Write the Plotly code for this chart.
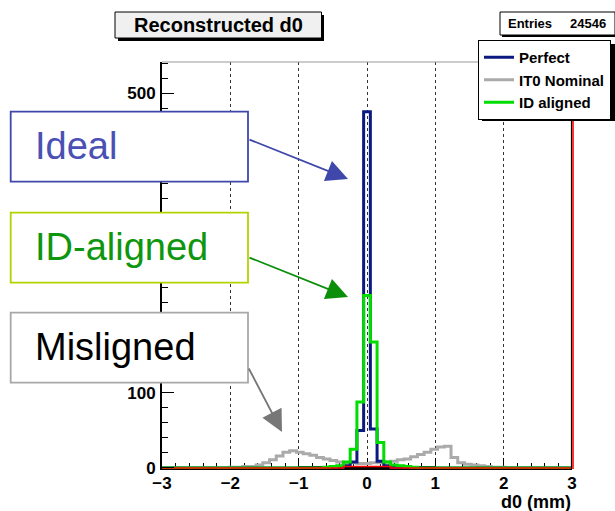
import numpy as np
import plotly.graph_objects as go

# ---- histogram binning: 61 bins over [-3, 3] mm ----
N_BINS = 61
X_MIN, X_MAX = -3.0, 3.0

# ---- bin contents (bins -30 .. +30 around d0 = 0) ----
perfect = [
    0, 0, 0, 0, 0, 0, 0, 0, 0, 0,
    0, 0, 0, 0, 0, 0, 0, 0, 0, 0,
    0, 0, 0, 0, 0, 0, 1, 3, 8, 50,
    475, 52, 9, 3, 1, 0, 0, 0, 0, 0,
    0, 0, 0, 0, 0, 0, 0, 0, 0, 0,
    0, 0, 0, 0, 0, 0, 0, 0, 0, 0,
    0,
]
it0_nominal = [
    0, 0, 0, 0, 0, 0, 0, 0, 0, 0,
    1, 1, 2, 2, 4, 7, 11, 16, 21, 23,
    21, 19, 17, 14, 12, 10, 8, 7, 7, 6,
    6, 7, 7, 8, 9, 11, 12, 15, 18, 21,
    25, 28, 29, 14, 7, 5, 4, 3, 2, 1,
    1, 0, 0, 0, 0, 0, 0, 0, 0, 0,
    0,
]
id_aligned = [
    0, 0, 0, 0, 0, 0, 0, 0, 0, 0,
    0, 0, 0, 0, 0, 0, 0, 0, 0, 0,
    0, 0, 0, 0, 1, 2, 3, 8, 25, 88,
    230, 168, 34, 8, 4, 3, 2, 1, 0, 0,
    0, 0, 0, 0, 0, 0, 0, 0, 0, 0,
    0, 0, 0, 0, 0, 0, 0, 0, 0, 0,
    0,
]
red_hist = [
    0, 0, 0, 0, 0, 0, 0, 0, 0, 0,
    0, 0, 0, 0, 0, 0, 0, 0, 0, 0,
    0, 0, 0, 0, 0, 0, 0, 2, 2, 2,
    2, 2, 2, 2, 0, 0, 0, 0, 0, 0,
    0, 0, 0, 0, 0, 0, 0, 0, 0, 0,
    0, 0, 0, 0, 0, 0, 0, 0, 0, 0,
    0,
]
# empty histogram booked on [-1, 1]
BLACK_MIN, BLACK_MAX = -1.0, 1.0
black_hist = [0] * 20

x_ticks = [-3, -2, -1, 0, 1, 2, 3]
y_ticks = [0, 100, 200, 300, 400, 500]
# labels for 200-400 sit underneath the call-out boxes
y_tick_text = ["0", "100", "", "", "", "500"]
entries = 24546

# ---- canvas geometry (pixels) ----
W, H = 615, 511
ML, MR, MT, MB = 162, 43, 62, 42
FONT = "Liberation Sans"


def px(x):
    return (x - ML) / (W - ML - MR)


def py(y):
    return (H - MB - y) / (H - MT - MB)


def step(lo, hi, vals):
    e = np.linspace(lo, hi, len(vals) + 1)
    return e, list(vals) + [vals[-1]]


fig = go.Figure()


def add_hist(lo, hi, vals, name, color, width, show=True, rank=1):
    xs, ys = step(lo, hi, vals)
    fig.add_trace(go.Scatter(
        x=xs, y=ys, mode="lines", line=dict(color=color, width=width, shape="hv"),
        name=name, showlegend=show, legendrank=rank, hoverinfo="skip"))


add_hist(BLACK_MIN, BLACK_MAX, black_hist, "empty", "black", 4, show=False)
add_hist(X_MIN, X_MAX, it0_nominal, "IT0 Nominal", "#aaaaaa", 3, rank=2)
add_hist(X_MIN, X_MAX, perfect, "Perfect", "#0a1a80", 3, rank=1)
add_hist(X_MIN, X_MAX, id_aligned, "ID aligned", "#00dd00", 3, rank=3)
add_hist(X_MIN, X_MAX, red_hist, "red", "#ff0000", 1.5, show=False)

bold = dict(family=FONT, weight="bold", color="black")

fig.update_layout(
    width=W, height=H,
    margin=dict(l=ML, r=MR, t=MT, b=MB, autoexpand=False),
    plot_bgcolor="white", paper_bgcolor="white",
    font=dict(family=FONT, color="black"),
    xaxis=dict(
        range=[X_MIN, X_MAX], tickvals=x_ticks, ticks="inside", ticklen=11,
        tickcolor="black", tickwidth=1, showline=True, linecolor="black",
        linewidth=1, showgrid=True, gridcolor="#333333", griddash="dot",
        gridwidth=1, zeroline=False, layer="below traces",
        ticklabelstandoff=-1,
        tickfont=dict(size=17, **bold),
        minor=dict(dtick=0.2, tick0=-3, ticks="inside", ticklen=6,
                   tickcolor="black", showgrid=False),
    ),
    yaxis=dict(
        range=[-1.5, 541.5], tickvals=y_ticks, ticktext=y_tick_text,
        ticks="inside", ticklen=12,
        tickcolor="black", tickwidth=1, showline=True, linecolor="black",
        linewidth=2, showgrid=False, zeroline=False,
        ticklabelstandoff=1,
        tickfont=dict(size=17, **bold),
        minor=dict(dtick=20, tick0=0, ticks="inside", ticklen=6,
                   tickcolor="black", showgrid=False),
    ),
    legend=dict(
        x=px(478), y=py(40), xanchor="left", yanchor="top",
        bgcolor="white", bordercolor="black", borderwidth=1,
        font=dict(size=15, **bold), itemwidth=30, tracegroupgap=0,
    ),
)

shapes = []
# frame: grey top edge, black right edge with the red overflow line
shapes.append(dict(type="line", xref="paper", yref="paper", x0=0, x1=1, y0=1, y1=1,
                   line=dict(color="#999999", width=1), layer="above"))
shapes.append(dict(type="line", xref="paper", yref="paper", x0=px(571.5), x1=px(571.5),
                   y0=0, y1=1, line=dict(color="black", width=1.2), layer="above"))
shapes.append(dict(type="line", xref="paper", yref="paper", x0=px(573), x1=px(573),
                   y0=0, y1=1, line=dict(color="#ff0000", width=1.6), layer="above"))
# legend shadow
shapes.append(dict(type="rect", xref="paper", yref="paper", x0=px(482), x1=px(617),
                   y0=py(121), y1=py(44), fillcolor="black", line=dict(width=0), layer="above"))
# title box with shadow
shapes.append(dict(type="rect", xref="paper", yref="paper", x0=px(118), x1=px(324),
                   y0=py(41), y1=py(15), fillcolor="black", line=dict(width=0), layer="above"))
shapes.append(dict(type="rect", xref="paper", yref="paper", x0=px(115), x1=px(321.5),
                   y0=py(38), y1=py(12), fillcolor="#f0f0f0",
                   line=dict(color="black", width=1), layer="above"))
# statistics box
shapes.append(dict(type="rect", xref="paper", yref="paper", x0=px(502), x1=px(617),
                   y0=py(37), y1=py(14), fillcolor="black", line=dict(width=0), layer="above"))
shapes.append(dict(type="rect", xref="paper", yref="paper", x0=px(500), x1=px(615),
                   y0=py(35), y1=py(12), fillcolor="white",
                   line=dict(color="black", width=1), layer="above"))

annotations = [
    dict(text="Reconstructed d0", x=px(218), y=py(25), xref="paper", yref="paper",
         showarrow=False, xanchor="center", yanchor="middle", font=dict(size=20, **bold)),
    dict(text="Entries", x=px(506), y=py(23.5), xref="paper", yref="paper",
         showarrow=False, xanchor="left", yanchor="middle", font=dict(size=13, **bold)),
    dict(text=str(entries), x=px(608), y=py(23.5), xref="paper", yref="paper",
         showarrow=False, xanchor="right", yanchor="middle", font=dict(size=13, **bold)),
    dict(text="d0 (mm)", x=px(573), y=py(502), xref="paper", yref="paper",
         showarrow=False, xanchor="right", yanchor="middle", font=dict(size=18, **bold)),
]

# labelled call-out boxes with arrows pointing at each distribution
callouts = [
    # label, text colour, border colour, box top, box bottom, tail y, tip (x, y)
    ("Ideal", "#4a50b4", "#3f48aa", 111.7, 181.7, 139, (348, 179)),
    ("ID-aligned", "#0e960e", "#b4d200", 212.7, 282.7, 257, (348, 297)),
    ("Misligned", "black", "#a8a8a8", 312.7, 382.7, 367, (282, 432)),
]
arrow_colors = {"Ideal": "#3f48aa", "ID-aligned": "#0b8f0b", "Misligned": "#777777"}
for label, tcol, bcol, top, bot, tail_y, (tx, ty) in callouts:
    acol = arrow_colors[label]
    annotations.append(dict(
        text="", x=px(tx), y=py(ty), xref="paper", yref="paper",
        ax=248 - tx, ay=tail_y - ty, axref="pixel", ayref="pixel",
        showarrow=True, arrowhead=2, arrowsize=2.4, arrowwidth=1.8,
        arrowcolor=acol, standoff=0))
    shapes.append(dict(type="rect", xref="paper", yref="paper",
                       x0=px(10.7), x1=px(248), y0=py(bot), y1=py(top),
                       fillcolor="white", line=dict(color=bcol, width=1.8), layer="above"))
    annotations.append(dict(
        text=label, x=px(33), y=py((top + bot) / 2 - 0.5), xref="paper", yref="paper",
        showarrow=False, xanchor="left", yanchor="middle",
        font=dict(family=FONT, size=38, color=tcol)))

fig.update_layout(shapes=shapes, annotations=annotations)
fig.write_html("out.html")
